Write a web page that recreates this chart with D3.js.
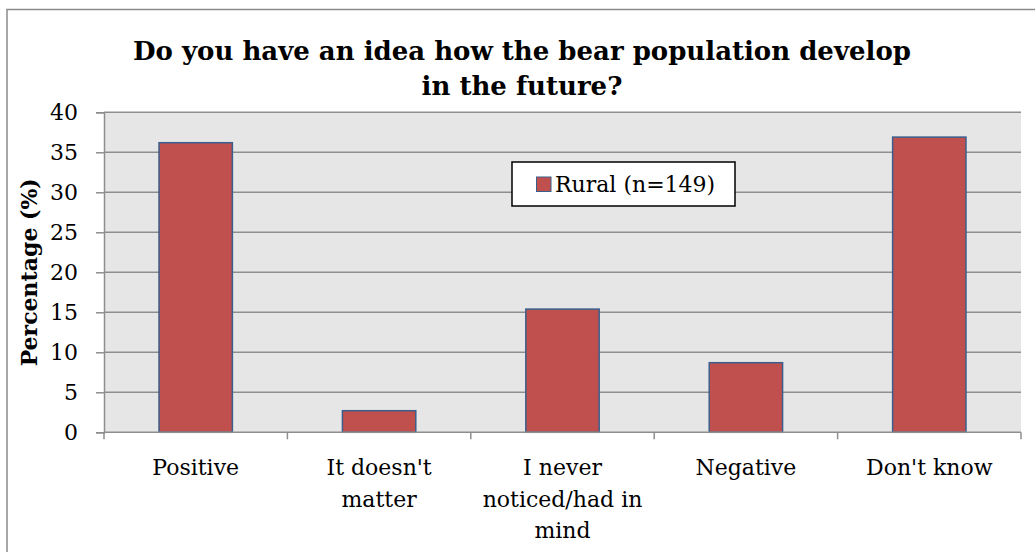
<!DOCTYPE html>
<html>
<head>
<meta charset="utf-8">
<script src="https://cdn.jsdelivr.net/npm/d3@7"></script>
<style>
  html, body { margin: 0; padding: 0; background: #ffffff; }
  svg { display: block; }
  text { font-family: "DejaVu Serif", "Liberation Serif", serif; fill: #000; }
</style>
</head>
<body>
<svg id="chart" width="1035" height="552"></svg>
<script>
// Survey answers (percent of respondents)
const categories = ["Positive", "It doesn't matter", "I never noticed/had in mind", "Negative", "Don't know"];
const categoryLines = [["Positive"], ["It doesn't", "matter"], ["I never", "noticed/had in", "mind"], ["Negative"], ["Don't know"]];
const ruralValues = [36.2, 2.7, 15.4, 8.7, 36.9];
const yTicks = [0, 5, 10, 15, 20, 25, 30, 35, 40];
const seriesName = "Rural (n=149)";
const titleLines = ["Do you have an idea how the bear population develop", "in the future?"];

const svg = d3.select("#chart");
const W = 1035, H = 552;
const plot = { left: 104, right: 1021, top: 112.3, bottom: 432.3 };

// chart frame
svg.append("rect")
  .attr("x", 7).attr("y", 9.5)
  .attr("width", W + 10).attr("height", H + 10)
  .attr("fill", "#fff").attr("stroke", "#8a8a8a").attr("stroke-width", 1.5);

const x = d3.scaleBand().domain(categories).range([plot.left, plot.right]).paddingInner(0.6).paddingOuter(0.3);
const xEdges = d3.scaleLinear().domain([0, categories.length]).range([plot.left, plot.right]);
const y = d3.scaleLinear().domain([0, 40]).range([plot.bottom, plot.top]);

// plot background
svg.append("rect")
  .attr("x", plot.left).attr("y", plot.top)
  .attr("width", plot.right - plot.left).attr("height", plot.bottom - plot.top)
  .attr("fill", "#e6e6e6");

// horizontal gridlines
svg.append("g").selectAll("line").data(yTicks.filter(t => t > 0)).join("line")
  .attr("x1", plot.left).attr("x2", plot.right)
  .attr("y1", d => y(d)).attr("y2", d => y(d))
  .attr("stroke", "#8e8e8e").attr("stroke-width", 1.5);

// y axis
const yAxis = svg.append("g").attr("transform", `translate(${plot.left},0)`)
  .call(d3.axisLeft(y).tickValues(yTicks).tickSize(8).tickPadding(18));
yAxis.select(".domain").attr("stroke", "#8e8e8e").attr("stroke-width", 1.5);
yAxis.selectAll(".tick line").attr("stroke", "#8e8e8e").attr("stroke-width", 1.5);
yAxis.selectAll(".tick text")
  .attr("font-family", "DejaVu Serif").attr("font-size", 22).attr("fill", "#000");

// bars
svg.append("g").selectAll("rect").data(categories).join("rect")
  .attr("x", d => x(d))
  .attr("y", (d, i) => y(ruralValues[i]))
  .attr("width", x.bandwidth())
  .attr("height", (d, i) => y(0) - y(ruralValues[i]))
  .attr("fill", "#c0504d").attr("stroke", "#3a5f8c").attr("stroke-width", 1.5);

// x axis line and band ticks
svg.append("line")
  .attr("x1", plot.left).attr("x2", plot.right)
  .attr("y1", plot.bottom).attr("y2", plot.bottom)
  .attr("stroke", "#8e8e8e").attr("stroke-width", 1.5);
svg.append("g").selectAll("line").data(d3.range(categories.length + 1)).join("line")
  .attr("x1", d => xEdges(d)).attr("x2", d => xEdges(d))
  .attr("y1", plot.bottom).attr("y2", plot.bottom + 7)
  .attr("stroke", "#8e8e8e").attr("stroke-width", 1.5);

// category labels
const catG = svg.append("g").selectAll("text").data(categories).join("text")
  .attr("text-anchor", "middle").attr("font-size", 22)
  .attr("x", d => x(d) + x.bandwidth() / 2)
  .attr("y", 475);
catG.each(function(d, i) {
  d3.select(this).selectAll("tspan").data(categoryLines[i]).join("tspan")
    .attr("x", x(d) + x.bandwidth() / 2)
    .attr("dy", (t, j) => j === 0 ? 0 : 31.5)
    .text(t => t);
});

// title
svg.append("text").attr("text-anchor", "middle")
  .attr("x", 522).attr("y", 60)
  .attr("font-size", 26).attr("font-weight", "bold")
  .selectAll("tspan").data(titleLines).join("tspan")
  .attr("x", 522).attr("dy", (t, j) => j === 0 ? 0 : 35)
  .text(t => t);

// y axis title
svg.append("text")
  .attr("transform", `translate(37,${(plot.top + plot.bottom) / 2}) rotate(-90)`)
  .attr("text-anchor", "middle")
  .attr("font-size", 22).attr("font-weight", "bold")
  .text("Percentage (%)");

// legend
const lg = svg.append("g");
lg.append("rect").attr("x", 512).attr("y", 162).attr("width", 223).attr("height", 44)
  .attr("fill", "#fff").attr("stroke", "#000").attr("stroke-width", 1.5);
lg.append("rect").attr("x", 536.5).attr("y", 177).attr("width", 14.5).attr("height", 14.5)
  .attr("fill", "#c0504d").attr("stroke", "#3a5f8c").attr("stroke-width", 1);
lg.append("text").attr("x", 555).attr("y", 192).attr("font-size", 22).text(seriesName);
</script>
</body>
</html>
